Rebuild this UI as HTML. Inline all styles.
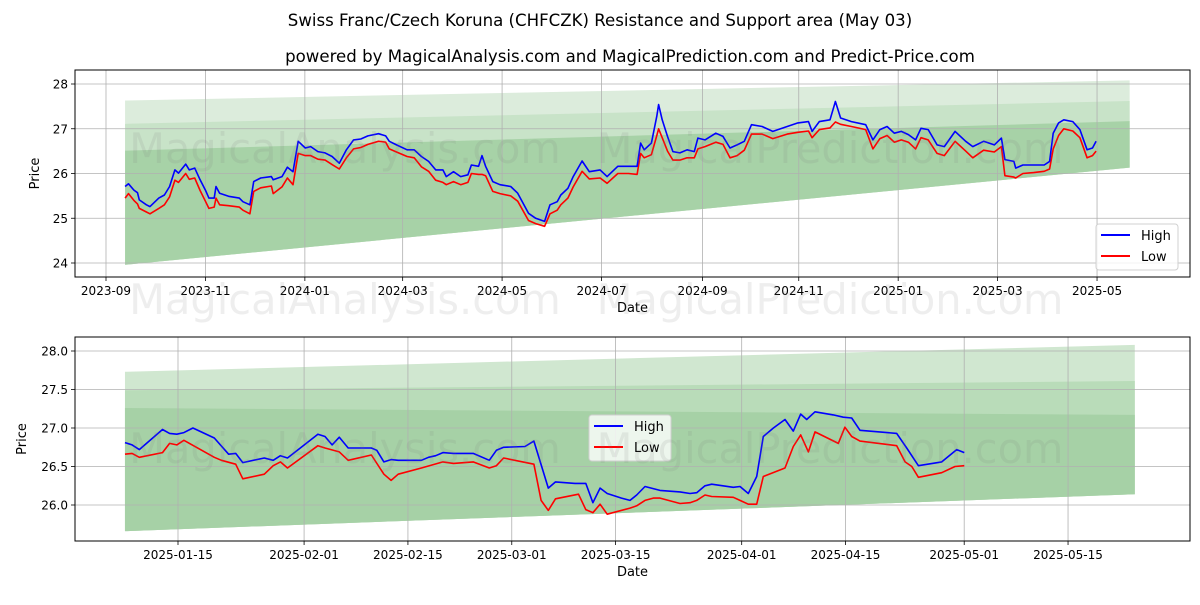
<!DOCTYPE html>
<html><head><meta charset="utf-8"><style>
body{margin:0;background:#fff;width:1200px;height:600px;overflow:hidden;font-family:"Liberation Sans","DejaVu Sans",sans-serif}
svg text{font-family:"DejaVu Sans","Liberation Sans",sans-serif}
</style></head><body>
<svg id="c" width="1200" height="600">
<text x="600" y="26" text-anchor="middle" font-size="16.6">Swiss Franc/Czech Koruna (CHFCZK) Resistance and Support area (May 03)</text>
<text x="630" y="62" text-anchor="middle" font-size="16.6">powered by MagicalAnalysis.com and MagicalPrediction.com and Predict-Price.com</text>
</svg>
<script>
// ---- Top chart data (x = days since 2023-09-01) ----
const topDays=[11.7,13.8,17.1,19.3,20.4,24.8,27,32.4,35.8,39,42.3,44.5,48.9,51.1,54.4,57.7,61,63.1,66.4,67.5,69.7,75.2,81.8,84,88.3,90.6,94.9,101.5,102.6,108,111.3,114.7,117.9,122.3,125.6,130,134.4,138.7,143.1,147.5,151.9,156.3,160.7,167.2,171.6,173.8,178.2,184.7,189.1,193.5,197.9,202.3,206.7,208.8,213.2,217.6,222,224.2,228.6,230.7,232.9,237.3,241.7,248.3,252.6,259.2,263.6,269.1,272.4,276.8,279,283.4,286.6,292.1,296.5,303.1,307.4,314,320.6,
325.8,328,330.2,334.6,337.9,339,341.2,344.5,347.8,352.1,356.5,360.9,363.1,367.5,374.1,378.5,382.8,387.2,391.6,396,402.5,409.1,417.9,424.5,431,433.2,437.6,444.2,447.5,450.7,457.3,466.1,470.5,474.8,479.2,483.6,487.9,492.3,496.7,500,504.4,509.9,514.3,520.9,527.4,531.8,538.4,545,549.3,551.5,557,558.1,562.5,569.1,575.6,578.9,581.1,584.4,587.6,593.1,597.5,601.9,605.2,607.4];
const topHigh=[25.71,25.77,25.63,25.57,25.41,25.30,25.26,25.45,25.52,25.71,26.08,26.01,26.21,26.08,26.12,25.86,25.63,25.45,25.45,25.71,25.56,25.49,25.45,25.37,25.30,25.82,25.90,25.93,25.86,25.93,26.14,26.04,26.72,26.57,26.60,26.49,26.46,26.38,26.23,26.53,26.75,26.77,26.84,26.89,26.84,26.72,26.64,26.53,26.53,26.38,26.27,26.08,26.08,25.93,26.04,25.93,25.97,26.19,26.16,26.40,26.16,25.82,25.75,25.71,25.56,25.11,25.00,24.93,25.30,25.37,25.52,25.67,25.93,26.28,26.04,26.08,25.93,26.16,26.16,
26.16,26.68,26.53,26.68,27.28,27.54,27.20,26.83,26.49,26.46,26.53,26.49,26.79,26.75,26.90,26.83,26.57,26.64,26.72,27.09,27.05,26.94,27.05,27.13,27.16,26.94,27.16,27.20,27.61,27.24,27.16,27.09,26.75,26.98,27.05,26.90,26.94,26.87,26.75,27.01,26.98,26.64,26.60,26.94,26.72,26.60,26.72,26.64,26.79,26.31,26.27,26.12,26.19,26.19,26.19,26.27,26.90,27.13,27.20,27.16,26.98,26.53,26.57,26.72];
const topLow=[25.45,25.55,25.40,25.32,25.22,25.14,25.10,25.22,25.30,25.48,25.85,25.80,26.00,25.87,25.90,25.62,25.38,25.22,25.25,25.45,25.30,25.28,25.25,25.18,25.10,25.60,25.68,25.72,25.55,25.70,25.90,25.75,26.45,26.40,26.40,26.32,26.30,26.20,26.10,26.35,26.55,26.58,26.65,26.72,26.70,26.55,26.48,26.38,26.35,26.15,26.05,25.85,25.80,25.75,25.82,25.75,25.80,26.00,25.98,25.98,25.95,25.60,25.55,25.50,25.38,24.95,24.88,24.82,25.10,25.18,25.30,25.45,25.70,26.05,25.88,25.90,25.78,26.00,26.00,
25.98,26.45,26.35,26.42,26.85,27.00,26.80,26.50,26.30,26.30,26.35,26.35,26.55,26.60,26.70,26.65,26.35,26.40,26.52,26.88,26.88,26.78,26.88,26.92,26.95,26.80,26.98,27.02,27.15,27.10,27.05,26.98,26.55,26.78,26.85,26.70,26.75,26.70,26.55,26.80,26.75,26.45,26.40,26.72,26.50,26.35,26.52,26.48,26.60,25.95,25.92,25.90,26.00,26.02,26.05,26.10,26.55,26.85,27.00,26.95,26.80,26.35,26.40,26.50];
const topBandDays=[11.7,628];
const topBand1=[27.63,28.08];
const topBand2=[27.11,27.62];
const topBand3=[26.51,27.17];
const topBand4=[23.96,26.13];
const topYTicks=[24,25,26,27,28];
const topXTickDays=[0,61,122,182,243,304,366,425,486,547,608];
const topXTickLabels=["2023-09","2023-11","2024-01","2024-03","2024-05","2024-07","2024-09","2024-11","2025-01","2025-03","2025-05"];

// ---- Bottom chart data (x = days since 2025-01-01) ----
const botHighDays=[6.85,7.81,8.78,11.91,12.87,13.84,14.80,16.01,18.89,20.82,21.78,22.74,25.63,26.83,27.80,28.76,32.86,33.82,34.78,35.75,36.95,40.08,40.80,41.76,42.73,43.69,46.81,47.78,48.74,49.71,51.15,53.80,55.97,56.93,57.90,60.79,61.99,63.92,64.89,67.53,68.98,69.94,70.91,71.87,73.80,74.94,75.84,76.96,78.99,81.68,83.03,83.93,85.05,85.96,88.87,89.77,90.89,92.02,92.92,94.27,95.84,96.96,97.95,98.76,99.88,102.35,103.7,104.83,105.95,110.90,112.25,113.82,116.96,118.99,120.01];
const botHigh=[26.81,26.78,26.72,26.98,26.93,26.92,26.94,27.00,26.87,26.66,26.67,26.55,26.61,26.58,26.64,26.61,26.92,26.89,26.78,26.88,26.74,26.74,26.71,26.56,26.59,26.58,26.58,26.62,26.64,26.68,26.67,26.67,26.58,26.71,26.75,26.76,26.83,26.22,26.30,26.28,26.28,26.03,26.22,26.15,26.09,26.06,26.13,26.24,26.19,26.17,26.15,26.16,26.25,26.27,26.23,26.24,26.15,26.37,26.89,27.00,27.11,26.96,27.18,27.11,27.21,27.17,27.14,27.13,26.97,26.93,26.74,26.51,26.56,26.72,26.68];
const botLowDays=[6.85,7.81,8.78,11.91,12.87,13.84,14.80,18.89,19.85,21.78,22.74,25.63,26.83,27.80,28.76,32.86,33.82,35.75,36.95,40.08,41.76,42.73,43.69,46.81,49.71,51.15,53.80,55.97,56.93,57.90,61.99,62.96,63.92,64.89,68.0,68.98,69.94,70.91,71.87,74.94,75.84,76.96,78.08,78.99,81.68,83.03,83.93,85.05,85.96,88.87,89.77,90.89,92.02,92.92,95.84,96.96,97.95,98.99,99.88,103.02,103.92,104.83,105.95,110.90,112.03,112.93,113.82,116.96,118.76,120.01];
const botLow=[26.66,26.67,26.62,26.68,26.80,26.78,26.84,26.62,26.58,26.53,26.34,26.40,26.51,26.56,26.48,26.77,26.74,26.69,26.58,26.65,26.40,26.32,26.40,26.48,26.56,26.54,26.56,26.48,26.51,26.61,26.53,26.06,25.93,26.08,26.14,25.94,25.90,26.01,25.88,25.96,25.99,26.06,26.09,26.09,26.02,26.03,26.06,26.13,26.11,26.10,26.06,26.01,26.01,26.37,26.48,26.76,26.91,26.69,26.95,26.80,27.01,26.89,26.83,26.77,26.56,26.50,26.36,26.42,26.50,26.51];
const botBandDays=[6.85,143];
const botBand1=[27.73,28.08];
const botBand2=[27.49,27.61];
const botBand3=[27.26,27.17];
const botBand4=[25.66,26.14];
const botYTicks=[26.0,26.5,27.0,27.5,28.0];
const botYTickLabels=["26.0","26.5","27.0","27.5","28.0"];
const botXTickDays=[14,31,45,59,73,90,104,120,134];
const botXTickLabels=["2025-01-15","2025-02-01","2025-02-15","2025-03-01","2025-03-15","2025-04-01","2025-04-15","2025-05-01","2025-05-15"];

const NS="http://www.w3.org/2000/svg";
const svg=document.getElementById('c');
function mk(tag,attrs,parent,text){const e=document.createElementNS(NS,tag);for(const k in attrs)e.setAttribute(k,attrs[k]);if(text!==undefined)e.textContent=text;(parent||svg).appendChild(e);return e;}

function drawChart(o){
  const g=mk('g',{});
  
  
  const xs=d=>o.x0+(d-o.d0)*o.pxPerDay;
  const ys=v=>o.yA+(v-o.vA)*(o.yB-o.yA)/(o.vB-o.vA);
  const bands=[[o.b1,o.c1,'band-outer'],[o.b2,o.c2,'band-middle'],[o.b3,o.c3,'band-inner']];
  bands.forEach(([b,col,nm])=>{
    const pts=[[xs(o.bd[0]),ys(b[0])],[xs(o.bd[1]),ys(b[1])],[xs(o.bd[1]),ys(o.b4[1])],[xs(o.bd[0]),ys(o.b4[0])]];
    const p=mk('polygon',{points:pts.map(q=>q.join(',')).join(' '),fill:col},g);
    
    
  });
  o.xt.forEach((d,i)=>{
    const x=xs(d);
    mk('line',{x1:x,x2:x,y1:o.top,y2:o.bot,stroke:'#b0b0b0','stroke-width':0.8},g);
    mk('line',{x1:x,x2:x,y1:o.bot,y2:o.bot+4,stroke:'#000','stroke-width':0.8},g);
    const t=mk('text',{x:x,y:o.bot+18,'text-anchor':'middle','font-size':12},g,o.xl[i]);
    
    
  });
  o.yt.forEach((v,i)=>{
    const y=ys(v);
    mk('line',{x1:o.left,x2:o.right,y1:y,y2:y,stroke:'#b0b0b0','stroke-width':0.8},g);
    mk('line',{x1:o.left-4,x2:o.left,y1:y,y2:y,stroke:'#000','stroke-width':0.8},g);
    const t=mk('text',{x:o.left-7,y:y+4.5,'text-anchor':'end','font-size':12},g,o.yl[i]);
    
    
  });
  o.wm.forEach(w=>{
    const t=mk('text',{x:w[0],y:w[1],'text-anchor':'middle','font-size':41.5,fill:'rgba(120,120,120,0.13)'},svg,w[2]);
    
    
  });
  const line=(days,vals,col,nm)=>{
    const p=mk('polyline',{points:days.map((d,i)=>xs(d).toFixed(1)+','+ys(vals[i]).toFixed(1)).join(' '),fill:'none',stroke:col,'stroke-width':1.6,'stroke-linejoin':'round'},g);
    
    
  };
  line(o.ld,o.low,'#ff0000','low-line');
  line(o.hd,o.high,'#0000ff','high-line');
  const f=mk('rect',{x:o.left,y:o.top,width:o.right-o.left,height:o.bot-o.top,fill:'none',stroke:'#000','stroke-width':1},g);
  
  
  const xl=mk('text',{x:(o.left+o.right)/2,y:o.bot+35,'text-anchor':'middle','font-size':13},g,'Date');
  
  
  const cy=(o.top+o.bot)/2;
  const yl=mk('text',{x:o.ylx,y:cy,'text-anchor':'middle','font-size':13,transform:'rotate(-90 '+o.ylx+' '+cy+')'},g,'Price');
  
  
  const L=o.leg;
  const lg=mk('g',{},g);
  
  
  mk('rect',{x:L[0],y:L[1],width:82,height:46,rx:3,fill:'rgba(255,255,255,0.8)',stroke:'#d0d0d0'},lg);
  mk('line',{x1:L[0]+5,x2:L[0]+34,y1:L[1]+11,y2:L[1]+11,stroke:'#0000ff','stroke-width':2},lg);
  mk('line',{x1:L[0]+5,x2:L[0]+34,y1:L[1]+32,y2:L[1]+32,stroke:'#ff0000','stroke-width':2},lg);
  const h=mk('text',{x:L[0]+45,y:L[1]+16,'font-size':13},lg,'High');
  
  
  const l=mk('text',{x:L[0]+45,y:L[1]+37,'font-size':13},lg,'Low');
  
  
}

drawChart({name:'top-chart',left:75,right:1190,top:70,bot:277,x0:106,d0:0,pxPerDay:1.63,
  yA:84,vA:28,yB:263,vB:24,bd:topBandDays,b1:topBand1,b2:topBand2,b3:topBand3,b4:topBand4,
  c1:'#dcecdc',c2:'#c8e3c8',c3:'#a7d2a7',xt:topXTickDays,xl:topXTickLabels,yt:topYTicks,yl:topYTicks.map(String),
  hd:topDays,high:topHigh,ld:topDays,low:topLow,ylx:39,leg:[1096,224],
  wm:[[345,163,'MagicalAnalysis.com'],[830,163,'MagicalPrediction.com'],[345,314,'MagicalAnalysis.com'],[830,314,'MagicalPrediction.com']]});
drawChart({name:'bottom-chart',left:75,right:1190,top:337,bot:541,x0:178,d0:14,pxPerDay:7.417,
  yA:351,vA:28,yB:505,vB:26,bd:botBandDays,b1:botBand1,b2:botBand2,b3:botBand3,b4:botBand4,
  c1:'#d0e7d0',c2:'#b9dcb9',c3:'#a6d1a6',xt:botXTickDays,xl:botXTickLabels,yt:botYTicks,yl:botYTickLabels,
  hd:botHighDays,high:botHigh,ld:botLowDays,low:botLow,ylx:26,leg:[589,415],
  wm:[[345,463,'MagicalAnalysis.com'],[830,463,'MagicalPrediction.com']]});
</script>
</body></html>
